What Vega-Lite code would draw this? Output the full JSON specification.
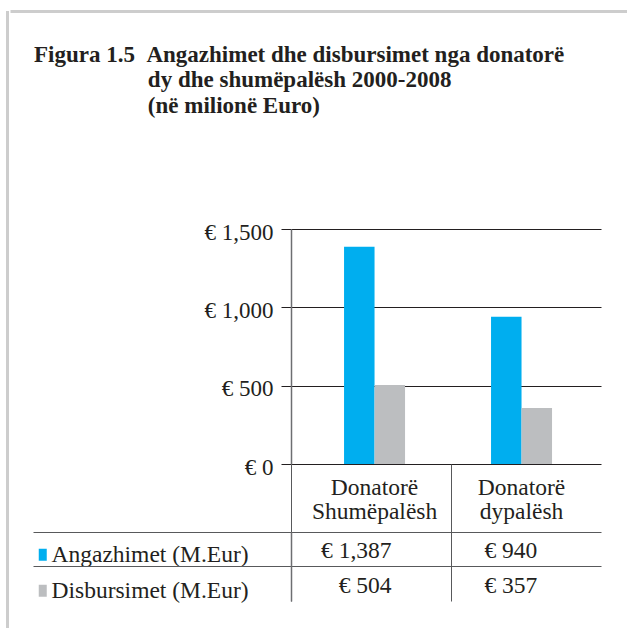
{
  "$schema": "https://vega.github.io/schema/vega-lite/v6.json",
  "padding": {"left": 6, "top": 8, "right": 0, "bottom": 0},
  "background": "white",
  "datasets": {
    "donors": [
      {"donor": "Donatorë Shumëpalësh", "series": "Angazhimet (M.Eur)", "value": 1387},
      {"donor": "Donatorë Shumëpalësh", "series": "Disbursimet (M.Eur)", "value": 504},
      {"donor": "Donatorë dypalësh", "series": "Angazhimet (M.Eur)", "value": 940},
      {"donor": "Donatorë dypalësh", "series": "Disbursimet (M.Eur)", "value": 357}
    ]
  },
  "spacing": 0,
  "hconcat": [
    {"width": 3, "height": 620, "data": {"values": []}, "mark": "point", "view": {"fill": "#cdcdcd", "stroke": null}},
    {
      "spacing": 0,
      "vconcat": [
        {
          "width": 335.5,
          "height": 31.5,
          "data": {"values": []},
          "mark": {"type": "point", "opacity": 0},
          "encoding": {
            "x": {
              "field": "fx", "type": "quantitative", "scale": {"domain": [0, 1]},
              "axis": {"orient": "top", "title": null, "labels": false, "ticks": false, "grid": false,
                       "domain": true, "domainColor": "#cdcdcd", "domainWidth": 3, "domainCap": "square"}
            },
            "y": {
              "field": "fy", "type": "quantitative", "scale": {"domain": [0, 1]},
              "axis": {"title": null, "labels": false, "grid": false, "domain": false, "values": [1],
                       "ticks": true, "tickSize": 279.5, "tickWidth": 3, "tickColor": "#cdcdcd", "tickCap": "square"}
            }
          }
        },
        {
          "title": {
            "text": [
              "Figura 1.5\u00a0\u00a0Angazhimet dhe disbursimet nga donatorë",
              "\u200b\u00a0\u00a0\u00a0\u00a0\u00a0\u00a0\u00a0\u00a0\u00a0\u00a0\u00a0\u00a0\u00a0\u00a0\u00a0\u00a0\u00a0\u00a0\u00a0\u2009dy dhe shumëpalësh 2000-2008",
              "\u200b\u00a0\u00a0\u00a0\u00a0\u00a0\u00a0\u00a0\u00a0\u00a0\u00a0\u00a0\u00a0\u00a0\u00a0\u00a0\u00a0\u00a0\u00a0\u00a0\u2009(në milionë Euro)"
            ],
            "anchor": "start",
            "font": "Liberation Serif",
            "fontSize": 23,
            "fontWeight": "bold",
            "color": "#231f20",
            "lineHeight": 25.5,
            "offset": 103.5,
            "dx": 3
          },
          "bounds": "flush",
          "spacing": 68,
          "resolve": {"scale": {"color": "independent"}},
          "vconcat": [
            {
              "width": 310,
              "height": 235,
              "data": {"name": "donors"},
              "mark": {"type": "bar"},
              "encoding": {
                "x": {
                  "field": "donor", "type": "nominal", "sort": null,
                  "scale": {"paddingInner": 0.585, "paddingOuter": 0.347, "align": 0.52},
                  "axis": {
                    "title": null, "orient": "bottom", "labelAngle": 0, "domain": false,
                    "ticks": false, "tickSize": 0, "labelPadding": 11,
                    "labelFont": "Liberation Serif", "labelFontSize": 23.5, "labelLineHeight": 24,
                    "labelColor": "#231f20", "labelExpr": "split(datum.label, ' ')",
                    "labelBaseline": "top", "labelLimit": 0
                  }
                },
                "xOffset": {"field": "series", "type": "nominal", "sort": null},
                "y": {
                  "field": "value", "type": "quantitative",
                  "scale": {"domain": [0, 1500], "nice": false},
                  "axis": {
                    "title": null, "values": [0, 500, 1000, 1500], "format": "$,.0f",
                    "tickSize": 10, "tickColor": "#231f20", "grid": true, "gridColor": "#231f20",
                    "gridWidth": 1, "gridOpacity": 1, "domainColor": "#6d6e71", "domainWidth": 1.5,
                    "labelPadding": 8, "labelFont": "Liberation Serif", "labelFontSize": 23,
                    "labelColor": "#231f20", "labelOffset": 3
                  }
                },
                "color": {
                  "field": "series", "type": "nominal", "sort": null,
                  "scale": {"range": ["#00aeef", "#bcbec0"]},
                  "legend": {
                    "orient": "none", "legendX": -260, "legendY": 314, "title": null,
                    "symbolType": "M-0.667,-1H0.667V1H-0.667Z", "symbolSize": 144,
                    "symbolStrokeWidth": 0, "labelFont": "Liberation Serif", "labelFontSize": 23.5,
                    "labelColor": "#231f20", "labelOffset": -3, "rowPadding": 11, "padding": 0,
                    "labelLimit": 0, "direction": "vertical"
                  }
                }
              }
            },
            {
              "width": 310,
              "height": 69,
              "data": {"name": "donors"},
              "mark": {
                "type": "text", "font": "Liberation Serif", "fontSize": 23.5, "color": "#231f20",
                "baseline": "alphabetic", "dy": 9,
                "align": {"expr": "datum.donor == 'Donatorë Shumëpalësh' ? 'right' : 'left'"},
                "dx": {"expr": "datum.donor == 'Donatorë Shumëpalësh' ? 26 : -42"}
              },
              "encoding": {
                "x": {
                  "field": "donor", "type": "nominal", "sort": null,
                  "scale": {"type": "band", "paddingInner": 0.0745, "paddingOuter": 0},
                  "axis": {
                    "title": null, "orient": "top", "bandPosition": 0, "labels": false,
                    "domain": false, "ticks": true, "tickSize": 68, "tickColor": "#58595b",
                    "grid": true, "gridColor": "#58595b", "gridOpacity": 1
                  }
                },
                "y": {
                  "field": "series", "type": "nominal", "sort": null,
                  "scale": {"type": "band", "paddingInner": 0, "paddingOuter": 0},
                  "axis": {
                    "title": null, "bandPosition": 0, "labels": false, "ticks": true,
                    "tickSize": 258, "tickColor": "#58595b", "grid": true, "gridColor": "#58595b",
                    "gridOpacity": 1, "domainColor": "#6d6e71", "domainWidth": 1.5
                  }
                },
                "text": {"field": "value", "type": "quantitative", "format": "$,.0f"}
              }
            }
          ]
        }
      ]
    }
  ],
  "config": {
    "view": {"stroke": null},
    "font": "Liberation Serif",
    "locale": {
      "number": {"decimal": ".", "thousands": ",", "grouping": [3], "currency": ["€ ", ""]}
    }
  }
}
